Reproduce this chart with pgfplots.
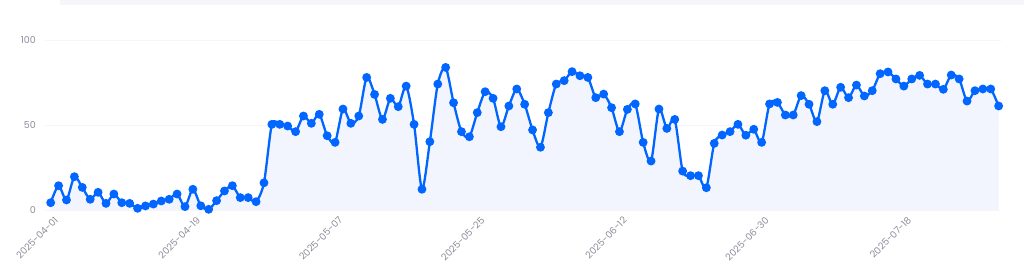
\documentclass[border=0pt]{standalone}
\usepackage{pgfplots}
\pgfplotsset{compat=1.18}
\usepackage{pgfplotstable}
\usepackage{fontspec}
\setmainfont{Poppins}
\definecolor{lineblue}{HTML}{0066FF}
\definecolor{areafill}{HTML}{F2F5FE}
\definecolor{ticklab}{HTML}{8E8E9C}
\definecolor{gridc}{HTML}{F6F5F9}
\definecolor{topbar}{HTML}{F6F5F9}
\pgfplotstableread{
i v
0 4.3
1 14.3
2 5.9
3 19.6
4 13.3
5 6.3
6 10.4
7 3.9
8 9.4
9 4.3
10 3.9
11 1.0
12 2.4
13 3.5
14 5.3
15 6.3
16 9.4
17 2.0
18 12.2
19 2.5
20 0.4
21 5.5
22 11.2
23 14.3
24 7.3
25 7.3
26 4.9
27 16.0
28 50.4
29 50.4
30 49.4
31 46.1
32 55.3
33 51.0
34 56.3
35 43.7
36 39.8
37 59.4
38 51.0
39 55.3
40 78.0
41 68.0
42 53.3
43 65.7
44 60.8
45 72.9
46 50.4
47 12.2
48 40.2
49 74.1
50 83.9
51 63.1
52 46.1
53 43.1
54 57.3
55 69.6
56 65.7
57 49.0
58 61.2
59 71.2
60 62.2
61 47.1
62 36.9
63 57.3
64 74.1
65 76.1
66 81.4
67 79.0
68 78.0
69 66.1
70 68.2
71 60.2
72 46.1
73 59.2
74 62.4
75 39.8
76 28.8
77 59.4
78 48.0
79 53.3
80 22.9
81 20.2
82 20.2
83 13.1
84 39.2
85 44.1
86 46.1
87 50.4
88 44.0
89 47.5
90 39.8
91 62.4
92 63.3
93 55.9
94 55.9
95 67.3
96 62.2
97 52.0
98 70.2
99 62.2
100 72.2
101 66.1
102 73.5
103 67.1
104 70.2
105 80.2
106 81.2
107 77.1
108 72.9
109 77.1
110 79.2
111 74.1
112 74.1
113 71.0
114 79.4
115 77.1
116 64.1
117 70.2
118 71.2
119 71.2
120 61.2
}\datatable
\begin{document}
\begin{tikzpicture}[x=1pt,y=1pt]
\useasboundingbox (0,0) rectangle (1024,269);
\fill[white] (0,0) rectangle (1024,269);
\fill[topbar] (60,264) rectangle (1024,269);
\begin{axis}[
  at={(45pt,59pt)}, anchor=south west,
  scale only axis, width=956pt, height=180pt,
  xmin=-0.72, xmax=120.3, ymin=0, ymax=105.9,
  axis line style={draw=none},
  tick style={draw=none},
  clip=false,
  xtick={0,18,36,54,72,90,108},
  xticklabels={2025-04-01,2025-04-19,2025-05-07,2025-05-25,2025-06-12,2025-06-30,2025-07-18},
  xticklabel style={rotate=45, anchor=east, font=\fontsize{9.5}{10}\selectfont, text=ticklab, inner sep=0pt, yshift=-10pt, xshift=-2pt},
  ytick={0,50,100},
  yticklabel style={font=\fontsize{9.5}{10}\selectfont, text=ticklab, inner sep=0pt, xshift=-9pt},
  /pgf/number format/assume math mode=true,
  ymajorgrids, major grid style={draw=gridc, line width=0.8pt},
]
\addplot[draw=none, fill=areafill, smooth, tension=0.45] table[x=i,y=v] {\datatable} \closedcycle;
\addplot[lineblue, line width=2.3pt, smooth, tension=0.45, mark=*, mark size=3.2pt, mark options={fill=lineblue, draw=none}] table[x=i,y=v] {\datatable};
\end{axis}
\end{tikzpicture}
\end{document}
